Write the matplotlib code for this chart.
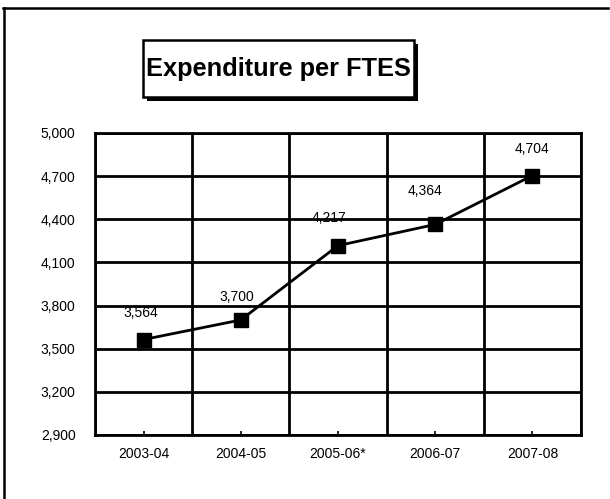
import numpy as np
from matplotlib import pyplot as plt
from matplotlib.patches import Rectangle
from matplotlib.lines import Line2D
from matplotlib.ticker import FuncFormatter, MultipleLocator

years = ["2003-04", "2004-05", "2005-06*", "2006-07", "2007-08"]
spend = [3564, 3700, 4217, 4364, 4704]
y_ticks = [2900, 3200, 3500, 3800, 4100, 4400, 4700, 5000]

# label nudges in pixels (dx, dy) for each value label
nudge = [(-3, 27), (-4, 23), (-9, 28), (-10, 33), (0, 27)]

plt.rcParams['font.family'] = ['Liberation Sans', 'DejaVu Sans']

W, H = 610, 499
fig = plt.figure(figsize=(W / 100, H / 100), dpi=100)

def fx(px):
    return px / W

def fy(py):
    return 1 - py / H

# outer frame: only the top and left edges show
fig.add_artist(Line2D([fx(3), fx(608)], [fy(8), fy(8)], color="black", lw=1.8,
                      transform=fig.transFigure))
fig.add_artist(Line2D([fx(4), fx(4)], [fy(8), fy(499)], color="black", lw=1.8,
                      transform=fig.transFigure))

# title box with drop shadow
bx0, by0, bx1, by1 = 143, 40, 414, 97
fig.add_artist(Rectangle((fx(bx0 + 4), fy(by1 + 4)), fx(bx1 - bx0), (by1 - by0) / H,
                         facecolor="black", edgecolor="none", transform=fig.transFigure))
fig.add_artist(Rectangle((fx(bx0), fy(by1)), fx(bx1 - bx0), (by1 - by0) / H,
                         facecolor="white", edgecolor="black", lw=1.8,
                         transform=fig.transFigure))
fig.text(fx((bx0 + bx1) / 2), fy(69), "Expenditure per FTES", ha="center", va="center",
         fontsize=18.3, fontweight="bold")

ax = fig.add_axes([fx(95), fy(435), fx(581 - 95), (435 - 133) / H])
x = np.arange(len(years))
ax.plot(x, spend, color="black", lw=2.0, marker="s", markersize=10,
        markerfacecolor="black", markeredgecolor="black", zorder=4)

for xi, v, (dx, dy) in zip(x, spend, nudge):
    ax.annotate(f"{v:,}", (xi, v), xytext=(dx * 0.72, dy * 0.72), textcoords="offset points",
                ha="center", va="center", fontsize=10)

ax.set_xlim(-0.5, len(years) - 0.5)
ax.set_ylim(y_ticks[0], y_ticks[-1])
ax.set_yticks(y_ticks)
ax.yaxis.set_major_formatter(FuncFormatter(lambda v, p: f"{int(v):,}"))
ax.set_xticks(x)
ax.set_xticklabels(years)
ax.xaxis.set_minor_locator(MultipleLocator(1, offset=0.5))

ax.grid(True, axis="y", which="major", color="black", lw=2.0)
ax.grid(True, axis="x", which="minor", color="black", lw=2.0)
ax.tick_params(axis="y", length=0, labelsize=10, pad=14)
ax.tick_params(axis="x", which="major", direction="in", length=3, width=1.2, labelsize=10, pad=9)
ax.tick_params(axis="x", which="minor", length=0)
for s in ax.spines.values():
    s.set_linewidth(2.0)
ax.set_axisbelow(True)

plt.savefig("out.png", dpi=100)
